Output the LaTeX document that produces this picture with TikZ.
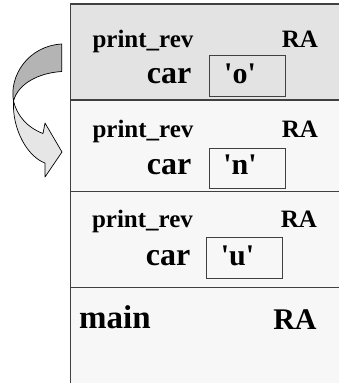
\documentclass[tikz,border=0pt]{standalone}
\usepackage{fontspec}
\setmainfont{Liberation Serif}
\definecolor{topfill}{HTML}{E3E3E3}
\definecolor{lowfill}{HTML}{F7F7F7}
\definecolor{arrdark}{HTML}{B4B4B4}
\definecolor{arrlight}{HTML}{E6E6E6}
\definecolor{edge}{HTML}{404040}
\newcommand{\sq}{\textquotesingle}
\begin{document}
\begin{tikzpicture}[x=1pt,y=-1pt,
  frame/.style={draw=edge, line width=1.3pt},
  fname/.style={font=\bfseries\fontsize{25}{30}\selectfont, anchor=base, inner sep=0pt},
  ra/.style={font=\bfseries\fontsize{25}{30}\selectfont, anchor=base, inner sep=0pt},
  carlbl/.style={font=\bfseries\fontsize{32}{38}\selectfont, anchor=base, inner sep=0pt},
  val/.style={font=\bfseries\fontsize{30}{36}\selectfont, anchor=base, inner sep=0pt},
  valbox/.style={draw=edge, line width=1pt, minimum width=76.5pt, minimum height=40.5pt, inner sep=0pt},
  bigname/.style={font=\bfseries\fontsize{33}{40}\selectfont, anchor=base, inner sep=0pt},
  bigra/.style={font=\bfseries\fontsize{30}{36}\selectfont, anchor=base, inner sep=0pt},
  arrowpart/.style={draw=black, line width=0.7pt, line join=round}]
\useasboundingbox (0,0) rectangle (339,383);
\clip (0,0) rectangle (339,383);
% frames
\path[frame, fill=topfill] (70.5,4) rectangle (350,100);
\path[frame, fill=lowfill] (70.5,100) rectangle (350,191.7);
\path[frame, fill=lowfill] (70.5,191.7) rectangle (350,287.7);
\path[frame, fill=lowfill] (70.5,287.7) rectangle (350,400);
% frame 1
\node[fname] (p1) at (143,47) {print\_rev};
\node[ra] (r1) at (300,47) {RA};
\node[carlbl] (c1) at (169,83) {car};
\node[valbox] (b1) at (247.5,76) {};
\node[val] (v1) at (240,83) {\sq o\sq};
% frame 2
\node[fname] (p2) at (143,137.5) {print\_rev};
\node[ra] (r2) at (300,137.5) {RA};
\node[carlbl] (c2) at (169,174) {car};
\node[valbox] (b2) at (247.5,168.5) {};
\node[val] (v2) at (240,174) {\sq n\sq};
% frame 3
\node[fname] (p3) at (142.5,227.5) {print\_rev};
\node[ra] (r3) at (299,227.5) {RA};
\node[carlbl] (c3) at (168,265) {car};
\node[valbox] (b3) at (244.5,258) {};
\node[val] (v3) at (237.5,265) {\sq u\sq};
% main
\node[bigname] (m) at (115,328) {main};
\node[bigra] (mr) at (295,329) {RA};
% curved arrow
\path[arrowpart, fill=arrdark] (61.7,44) -- (61.7,71.5)
  .. controls (38,73) and (18,84) .. (13.5,101)
  .. controls (9,76) and (28,46) .. cycle;
\path[arrowpart, fill=arrlight] (13.5,101)
  .. controls (17,116) and (28,128) .. (43,133.5)
  -- (45,123) -- (62,152) -- (45,177) -- (45,163)
  .. controls (28,157) and (12,130) .. (13.5,101) -- cycle;
\end{tikzpicture}
\end{document}
